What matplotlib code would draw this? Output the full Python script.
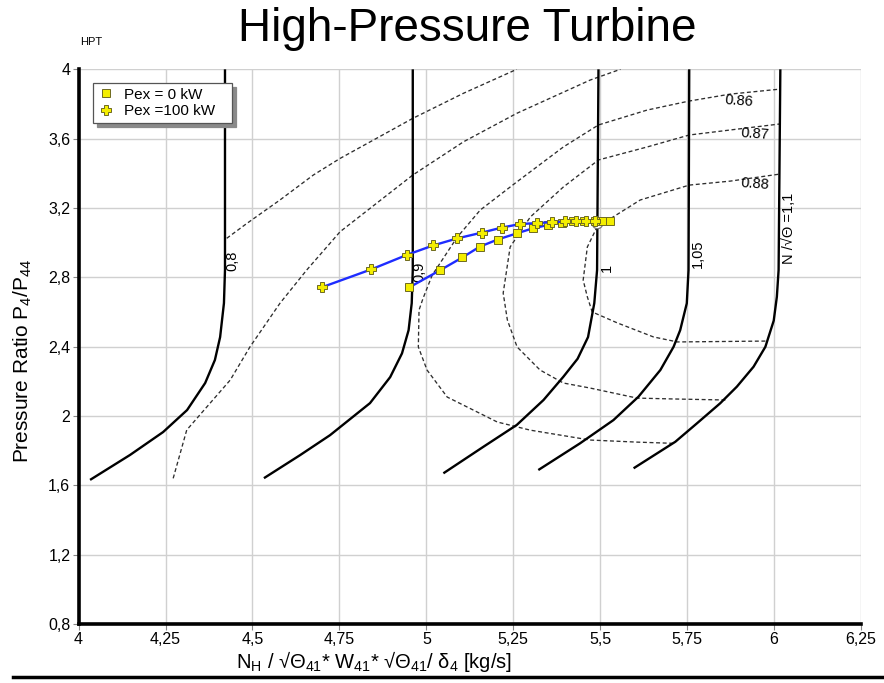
import matplotlib
matplotlib.use("Agg")
import matplotlib.pyplot as plt
from matplotlib.lines import Line2D
import numpy as np

plt.rcParams["font.family"] = ["Liberation Sans", "DejaVu Sans"]
plt.rcParams["mathtext.default"] = "regular"

# ---- corrected speed lines N/sqrt(Theta) : (flow, pressure ratio) ----
n080_flow = [4.421, 4.421, 4.418, 4.407, 4.392, 4.364, 4.312, 4.243, 4.148, 4.033]
n080_pr = [4.0, 2.842, 2.651, 2.455, 2.323, 2.190, 2.034, 1.907, 1.775, 1.631]
n090_flow = [4.961, 4.961, 4.958, 4.949, 4.930, 4.896, 4.838, 4.723, 4.637, 4.533]
n090_pr = [4.0, 2.842, 2.651, 2.495, 2.361, 2.224, 2.074, 1.889, 1.774, 1.641]
n100_flow = [5.495, 5.491, 5.483, 5.465, 5.435, 5.394, 5.337, 5.260, 5.164, 5.049]
n100_pr = [4.0, 2.842, 2.651, 2.455, 2.330, 2.226, 2.092, 1.948, 1.822, 1.669]
n105_flow = [5.756, 5.754, 5.749, 5.730, 5.711, 5.673, 5.610, 5.538, 5.442, 5.322]
n105_pr = [4.0, 2.842, 2.650, 2.495, 2.399, 2.265, 2.111, 1.976, 1.842, 1.688]
n110_flow = [6.018, 6.013, 6.008, 5.999, 5.975, 5.941, 5.893, 5.845, 5.778, 5.716, 5.596]
n110_pr = [4.0, 2.842, 2.688, 2.550, 2.399, 2.284, 2.169, 2.073, 1.957, 1.851, 1.698]

speed_labels = ["0,8", "0,9", "1", "1,05", "N /√Θ =1,1"]
speed_label_flow = [4.443, 4.979, 5.519, 5.780, 6.044]
speed_label_pr = [2.895, 2.830, 2.853, 2.938, 3.084]

# ---- efficiency contours ----
effA_flow = [4.426, 4.484, 4.579, 4.675, 4.752, 4.961, 5.107, 5.260]
effA_pr = [3.025, 3.111, 3.246, 3.390, 3.486, 3.717, 3.862, 4.0]
effB_flow = [4.272, 4.311, 4.436, 4.493, 4.579, 4.656, 4.752, 4.961, 5.107, 5.260, 5.471, 5.558]
effB_pr = [1.640, 1.919, 2.207, 2.399, 2.650, 2.842, 3.063, 3.390, 3.582, 3.746, 3.938, 4.0]
eff086_flow = [5.710, 5.606, 5.471, 5.299, 5.204, 5.060, 5.002, 4.977, 4.979, 4.991, 5.017,
               5.089, 5.155, 5.256, 5.394, 5.495, 5.635, 5.756, 5.874, 6.018]
eff086_pr = [1.842, 1.849, 1.861, 1.918, 1.965, 2.109, 2.265, 2.398, 2.611, 2.681, 2.813,
             3.032, 3.188, 3.344, 3.552, 3.679, 3.765, 3.817, 3.857, 3.886]
eff087_flow = [5.860, 5.710, 5.606, 5.471, 5.394, 5.327, 5.261, 5.233, 5.221, 5.241, 5.299,
               5.394, 5.495, 5.635, 5.756, 5.874, 6.018]
eff087_pr = [2.092, 2.098, 2.103, 2.161, 2.190, 2.265, 2.398, 2.554, 2.709, 2.975, 3.148,
             3.321, 3.477, 3.552, 3.621, 3.650, 3.685]
eff088_flow = [5.975, 5.722, 5.653, 5.549, 5.477, 5.463, 5.451, 5.463, 5.491, 5.537, 5.615,
               5.756, 5.874, 6.018]
eff088_pr = [2.432, 2.427, 2.456, 2.537, 2.600, 2.687, 2.784, 2.975, 3.090, 3.148, 3.246,
             3.332, 3.355, 3.396]

eff_labels = ["0.86", "0.87", "0.88"]
eff_label_flow = [5.900, 5.946, 5.946]
eff_label_pr = [3.817, 3.627, 3.338]

# design point
design_flow = 5.492
design_pr = 3.111

# ---- operating lines ----
pex0_flow = [4.951, 5.039, 5.104, 5.153, 5.205, 5.261, 5.307, 5.350, 5.389, 5.422,
             5.454, 5.484, 5.507, 5.527]
pex0_pr = [2.742, 2.840, 2.915, 2.976, 3.018, 3.054, 3.083, 3.102, 3.116, 3.123,
           3.125, 3.126, 3.125, 3.123]
pex100_flow = [4.699, 4.842, 4.945, 5.020, 5.088, 5.160, 5.217, 5.269, 5.318, 5.360,
               5.399, 5.431, 5.458, 5.486]
pex100_pr = [2.742, 2.846, 2.930, 2.984, 3.024, 3.058, 3.087, 3.107, 3.113, 3.118,
             3.122, 3.123, 3.122, 3.122]
series_labels = ["Pex = 0 kW", "Pex =100 kW"]

x_ticks = [4, 4.25, 4.5, 4.75, 5, 5.25, 5.5, 5.75, 6, 6.25]
y_ticks = [0.8, 1.2, 1.6, 2.0, 2.4, 2.8, 3.2, 3.6, 4.0]


def comma(v):
    return f"{round(v, 3):g}".replace(".", ",")


fig = plt.figure(figsize=(8.84, 6.83), dpi=100)
ax = fig.add_axes([0.0889, 0.0865, 0.8851, 0.812])

ax.set_xlim(4, 6.25)
ax.set_ylim(0.8, 4.0)
ax.set_xticks(x_ticks)
ax.set_xticklabels([comma(v) for v in x_ticks], fontsize=11.5)
ax.set_yticks(y_ticks)
ax.set_yticklabels([comma(v) for v in y_ticks], fontsize=11.5)
ax.grid(True, color="#d0d0d0", lw=1.0, zorder=0)
ax.set_axisbelow(True)
ax.tick_params(direction="out", length=4, width=0.8, color="#888888", pad=2)
for side in ("top", "right"):
    ax.spines[side].set_visible(False)
for side in ("left", "bottom"):
    ax.spines[side].set_linewidth(2.6)
    ax.spines[side].set_color("black")

# speed lines
speed_kw = dict(color="black", lw=1.7, zorder=3, solid_capstyle="butt", solid_joinstyle="round")
for fx, fy in [(n080_flow, n080_pr), (n090_flow, n090_pr), (n100_flow, n100_pr),
               (n105_flow, n105_pr), (n110_flow, n110_pr)]:
    ax.plot(fx, fy, **speed_kw)
for lab, fx, fy in zip(speed_labels, speed_label_flow, speed_label_pr):
    ax.text(fx, fy, lab, rotation=90, ha="center", va="center", fontsize=10.5, zorder=4)

# efficiency contours
dash_kw = dict(color="#2e2e2e", lw=0.95, ls=(0, (3, 2)), zorder=2)
for fx, fy in [(effA_flow, effA_pr), (effB_flow, effB_pr), (eff086_flow, eff086_pr),
               (eff087_flow, eff087_pr), (eff088_flow, eff088_pr)]:
    ax.plot(fx, fy, **dash_kw)
for lab, fx, fy in zip(eff_labels, eff_label_flow, eff_label_pr):
    ax.text(fx, fy, lab, rotation=-4, ha="center", va="center", fontsize=10.5, zorder=4)

ax.plot(design_flow, design_pr, "o", ms=7.5, mfc="white", mec="#777777", mew=0.9, zorder=4)

# operating lines
yellow = "#f4ee00"
edge = "#6e6a20"
ax.plot(pex0_flow, pex0_pr, color="#1e2cff", lw=1.7, zorder=5,
        marker="s", ms=5.6, mfc=yellow, mec=edge, mew=0.7)
ax.plot(pex100_flow, pex100_pr, color="#1e2cff", lw=1.7, zorder=5,
        marker="P", ms=7, mfc=yellow, mec=edge, mew=0.7)

handles = [
    Line2D([], [], ls="none", marker="s", ms=5.6, mfc=yellow, mec=edge, mew=0.7),
    Line2D([], [], ls="none", marker="P", ms=7, mfc=yellow, mec=edge, mew=0.7),
]
leg = ax.legend(handles, series_labels, loc="upper left", bbox_to_anchor=(0.0188, 0.975),
                frameon=True, fancybox=False,
                shadow={"ox": 3, "oy": -3, "color": "#8a8a8a", "alpha": 1},
                edgecolor="#555555", framealpha=1, fontsize=11, borderaxespad=0,
                handletextpad=0.7, borderpad=0.3, labelspacing=0.15, handlelength=1.0)
leg.get_frame().set_linewidth(0.9)
leg.set_zorder(10)
# extra room on the right side of the legend box
leg._legend_box.sep = 0
for t in leg.get_texts():
    t.set_text(t.get_text() + "   ")

ax.set_ylabel("Pressure Ratio P$_4$/P$_{44}$", fontsize=15)
ax.yaxis.set_label_coords(-0.057, 0.474)
ax.set_xlabel("N$_H$ / √Θ$_{41}$* W$_{41}$* √Θ$_{41}$/ δ$_4$ [kg/s]", fontsize=14.5)
ax.xaxis.set_label_coords(0.378, -0.045)

fig.text(0.529, 0.958, "High-Pressure Turbine", fontsize=33, ha="center", va="center")
fig.text(0.0905, 0.9385, "HPT", fontsize=8, ha="left", va="center")
fig.add_artist(Line2D([0.015, 1.0], [0.0088, 0.0088], transform=fig.transFigure,
                      color="black", lw=2.5))

fig.savefig("out.png", dpi=100)
